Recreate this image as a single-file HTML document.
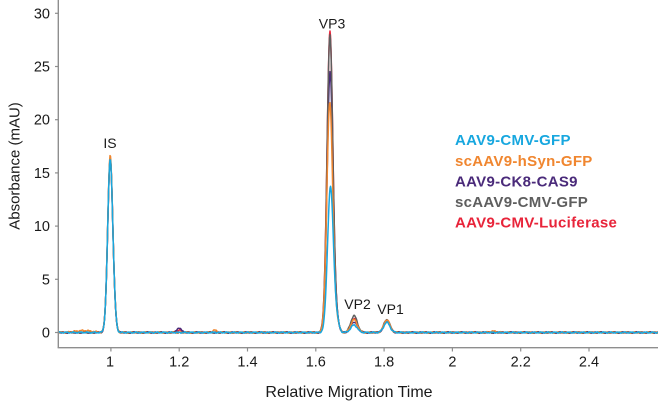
<!DOCTYPE html>
<html><head><meta charset="utf-8">
<style>
html,body{margin:0;padding:0;background:#fff;}
body{width:658px;height:403px;overflow:hidden;}
svg{display:block;}
text{font-family:"Liberation Sans",sans-serif;}
</style></head>
<body>
<svg id="c" width="658" height="403" viewBox="0 0 658 403" xmlns="http://www.w3.org/2000/svg">
<rect width="658" height="403" fill="#fff"/>
<g id="series" fill="none" stroke-width="1.5" stroke-linejoin="round"></g>
<!-- axes -->
<line x1="58.3" y1="0" x2="58.3" y2="347.7" stroke="#8e8e8e" stroke-width="1.4"/>
<line x1="57.6" y1="347.7" x2="658" y2="347.7" stroke="#8e8e8e" stroke-width="1.4"/>
<g stroke="#8e8e8e" stroke-width="1.2">
<line x1="55" y1="13.3" x2="58" y2="13.3"/>
<line x1="55" y1="66.5" x2="58" y2="66.5"/>
<line x1="55" y1="119.7" x2="58" y2="119.7"/>
<line x1="55" y1="172.9" x2="58" y2="172.9"/>
<line x1="55" y1="226.1" x2="58" y2="226.1"/>
<line x1="55" y1="279.3" x2="58" y2="279.3"/>
<line x1="55" y1="332.5" x2="58" y2="332.5"/>
<line x1="110.9" y1="348" x2="110.9" y2="351.5"/>
<line x1="179.2" y1="348" x2="179.2" y2="351.5"/>
<line x1="247.5" y1="348" x2="247.5" y2="351.5"/>
<line x1="315.8" y1="348" x2="315.8" y2="351.5"/>
<line x1="384.1" y1="348" x2="384.1" y2="351.5"/>
<line x1="452.4" y1="348" x2="452.4" y2="351.5"/>
<line x1="520.7" y1="348" x2="520.7" y2="351.5"/>
<line x1="589.0" y1="348" x2="589.0" y2="351.5"/>
</g>
<g font-size="14.5" fill="#1a1a1a" text-anchor="end">
<text x="50" y="18.3">30</text>
<text x="50" y="71.5">25</text>
<text x="50" y="124.7">20</text>
<text x="50" y="177.9">15</text>
<text x="50" y="231.1">10</text>
<text x="50" y="284.3">5</text>
<text x="50" y="337.5">0</text>
</g>
<g font-size="14.5" fill="#1a1a1a" text-anchor="middle">
<text x="110" y="366.5">1</text>
<text x="179.2" y="366.5">1.2</text>
<text x="247.5" y="366.5">1.4</text>
<text x="315.8" y="366.5">1.6</text>
<text x="384.1" y="366.5">1.8</text>
<text x="452.4" y="366.5">2</text>
<text x="520.7" y="366.5">2.2</text>
<text x="589.0" y="366.5">2.4</text>
</g>
<text x="349" y="397" font-size="16" fill="#1a1a1a" text-anchor="middle">Relative Migration Time</text>
<text transform="translate(19.5,166) rotate(-90)" font-size="15" fill="#1a1a1a" text-anchor="middle">Absorbance (mAU)</text>
<!-- peak labels -->
<g font-size="14" fill="#1a1a1a" text-anchor="middle">
<text x="110" y="148">IS</text>
<text x="332" y="28.5">VP3</text>
<text x="357.5" y="309">VP2</text>
<text x="390.5" y="314">VP1</text>
</g>
<!-- legend -->
<g font-size="15" font-weight="bold" letter-spacing="0.3">
<text x="455" y="145" fill="#17a7df">AAV9-CMV-GFP</text>
<text x="455" y="166" fill="#f0862f">scAAV9-hSyn-GFP</text>
<text x="455" y="186.5" fill="#4a2a7a">AAV9-CK8-CAS9</text>
<text x="455" y="207" fill="#5e5e5e">scAAV9-CMV-GFP</text>
<text x="455" y="227.5" fill="#e8243a">AAV9-CMV-Luciferase</text>
</g>
</svg>
<script>
(function(){
var X=function(t){return 110.9+(t-1)*341.5;};
var Y=function(v){return 332.5-v*10.64;};
function s(cfg){
 var p=[
  [0.998,cfg.is,0.0074],[1.011,0.75,0.005],
  [cfg.vp3t,cfg.vp3,0.0086],[1.662,0.95,0.0065],
  [1.712,cfg.vp2,0.0095],[1.808,cfg.vp1,0.009]
 ].concat(cfg.extra||[]);
 return p;
}
var series=[
 {c:"#e8243a",is:16.3,vp3:28.3,vp3t:1.6415,vp2:1.3,vp1:1.15,extra:[[1.2,0.25,0.006]],ph:1.3},
 {c:"#4a2a7a",is:16.4,vp3:24.5,vp3t:1.6418,vp2:1.0,vp1:1.12,extra:[[1.2,0.45,0.006]],ph:0.4},
 {c:"#5e5e5e",is:16.2,vp3:28.0,vp3t:1.6415,vp2:1.58,vp1:1.22,ph:2.1},
 {c:"#f0862f",is:16.6,vp3:21.7,vp3t:1.641,vp2:1.2,vp1:1.18,extra:[[0.92,0.18,0.025],[1.305,0.22,0.006],[2.12,0.12,0.01]],ph:3.3},
 {c:"#17a7df",is:16.3,vp3:13.7,vp3t:1.643,vp2:0.7,vp1:0.95,ph:4.7}
];
var g=document.getElementById("series");
series.forEach(function(sr){
 var pk=s(sr);
 var d="";
 for(var x=58.5;x<=658;x+=0.5){
  var t=1+(x-110.9)/341.5;
  var v=0;
  for(var i=0;i<pk.length;i++){var z=(t-pk[i][0])/pk[i][2];if(Math.abs(z)<8)v+=pk[i][1]*Math.exp(-0.5*z*z);}
  v+=0.04*Math.sin(x*0.9+sr.ph)+0.03*Math.sin(x*2.3+sr.ph*2);
  d+=(d?"L":"M")+x.toFixed(1)+" "+Y(v).toFixed(2);
 }
 var el=document.createElementNS("http://www.w3.org/2000/svg","path");
 el.setAttribute("d",d);el.setAttribute("stroke",sr.c);
 g.appendChild(el);
});
})();
</script>
</body></html>
